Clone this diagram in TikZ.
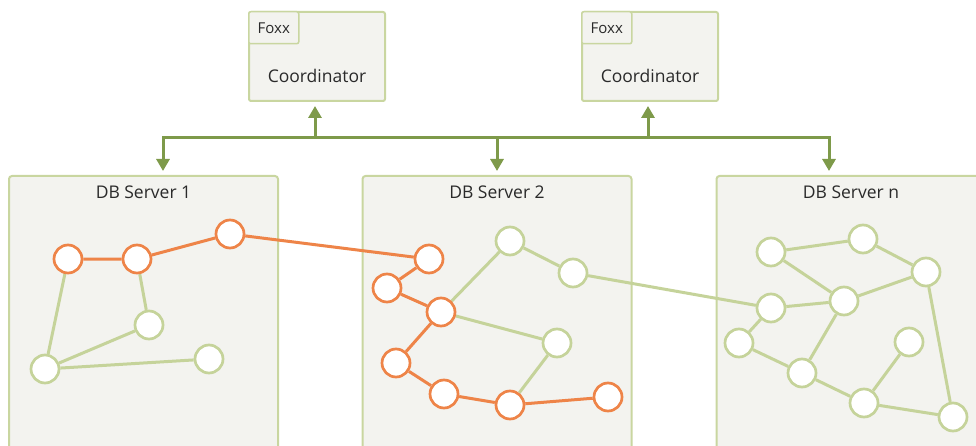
\documentclass[tikz,border=0pt]{standalone}
\usepackage{fontspec}
\setmainfont{Open Sans}
\usetikzlibrary{arrows.meta,calc}
\definecolor{boxfill}{HTML}{F3F3EF}
\definecolor{boxline}{HTML}{C9D6A0}
\definecolor{gnode}{HTML}{C5D39A}
\definecolor{onode}{HTML}{EE8448}
\definecolor{busc}{HTML}{7E9A4A}
\definecolor{txtc}{HTML}{2A2A2A}
\pgfdeclarelayer{bg}
\pgfdeclarelayer{edges}
\pgfsetlayers{bg,edges,main}
\tikzset{
  coordbox/.style={draw=boxline, fill=boxfill, line width=2pt, rounded corners=2pt, minimum width=136pt, minimum height=89pt, inner sep=0pt},
  tabbox/.style={draw=boxline, fill=boxfill, line width=1.5pt, rounded corners=2pt, minimum width=50pt, minimum height=32pt, inner sep=0pt, anchor=north west, font=\fontsize{15}{17}\selectfont, text=txtc},
  srvbox/.style={draw=boxline, fill=boxfill, line width=2pt, rounded corners=3pt, minimum width=269pt, minimum height=323pt, inner sep=0pt},
  lbl/.style={text=txtc, inner sep=0pt},
  gn/.style={circle, draw=gnode, fill=white, line width=2.7pt, minimum size=28pt, inner sep=0pt},
  on/.style={circle, draw=onode, fill=white, line width=2.7pt, minimum size=28pt, inner sep=0pt},
  ge/.style={draw=gnode, line width=3pt},
  oe/.style={draw=onode, line width=3pt},
  bus/.style={draw=busc, line width=3pt},
  busarrow/.style={bus, -{Triangle[width=13pt,length=12pt]}, shorten >=4pt},
}
\begin{document}
\begin{tikzpicture}[x=1pt,y=-1pt]
\clip (0,0) rectangle (976,446);
\useasboundingbox (0,0) rectangle (976,446);

% coordinators
\node[coordbox] (c1) at (317,56.5) {};
\node[tabbox] (f1) at (c1.north west) {Foxx};
\node[lbl, font=\fontsize{17.5}{20}\selectfont] (c1t) at ([yshift=-19pt]c1.center) {Coordinator};
\node[coordbox] (c2) at (650,56.5) {};
\node[tabbox] (f2) at (c2.north west) {Foxx};
\node[lbl, font=\fontsize{17.5}{20}\selectfont] (c2t) at ([yshift=-19pt]c2.center) {Coordinator};

% servers
\begin{pgfonlayer}{bg}
\node[srvbox] (s1) at (143.5,337.5) {};
\node[srvbox] (s2) at (497,337.5) {};
\node[srvbox] (sn) at (851,337.5) {};
\end{pgfonlayer}
\node[lbl, font=\fontsize{17.5}{20}\selectfont] (s1t) at ([yshift=-17pt]s1.north) {DB Server 1};
\node[lbl, font=\fontsize{17.5}{20}\selectfont] (s2t) at ([yshift=-17pt]s2.north) {DB Server 2};
\node[lbl, font=\fontsize{17.5}{20}\selectfont] (snt) at ([yshift=-17pt]sn.north) {DB Server n};

% bus
\coordinate (j1) at (163,138);
\coordinate (j2) at (497,138);
\coordinate (jn) at (829,138);
\coordinate (u1) at (315,138);
\coordinate (u2) at (648,138);
\draw[busarrow] (jn) -- (j1) -- (j1 |- s1.north);
\draw[busarrow] (j1) -- (jn) -- (jn |- sn.north);
\draw[busarrow] (j2) -- (j2 |- s2.north);
\draw[busarrow] (u1) -- (u1 |- c1.south);
\draw[busarrow] (u2) -- (u2 |- c2.south);

% server 1 nodes
\node[on] (a) at (68,259) {};
\node[on] (b) at (137,259) {};
\node[on] (c) at (230,234) {};
\node[gn] (d) at (149,325) {};
\node[gn] (e) at (45,369) {};
\node[gn] (f) at (209,359) {};
% server 2 nodes
\node[on] (g) at (429,259) {};
\node[on] (h) at (387,288) {};
\node[on] (i) at (441,312) {};
\node[gn] (j) at (510,241) {};
\node[gn] (k) at (573,273) {};
\node[gn] (l) at (557,343) {};
\node[on] (m) at (396,363) {};
\node[on] (n) at (444,394) {};
\node[on] (o) at (510,405) {};
\node[on] (p) at (608,397) {};
% server n nodes
\node[gn] (q) at (771,252) {};
\node[gn] (r) at (863,239) {};
\node[gn] (s) at (926,272) {};
\node[gn] (t) at (844,301) {};
\node[gn] (u) at (771,308) {};
\node[gn] (v) at (739,343) {};
\node[gn] (w) at (909,342) {};
\node[gn] (x) at (802,373) {};
\node[gn] (y) at (864,403) {};
\node[gn] (z) at (953,417) {};

\begin{pgfonlayer}{edges}
\draw[oe] (a) -- (b) -- (c) -- (g) -- (h) -- (i) -- (m) -- (n) -- (o) -- (p);
\draw[ge] (a) -- (e) -- (d) -- (b);
\draw[ge] (e) -- (f);
\draw[ge] (i) -- (j) -- (k) -- (u);
\draw[ge] (i) -- (l) -- (o);
\draw[ge] (q) -- (r) -- (s) -- (t) -- (q);
\draw[ge] (u) -- (t) -- (x) -- (v) -- (u);
\draw[ge] (x) -- (y) -- (w);
\draw[ge] (y) -- (z) -- (s);
\end{pgfonlayer}
\end{tikzpicture}
\end{document}
